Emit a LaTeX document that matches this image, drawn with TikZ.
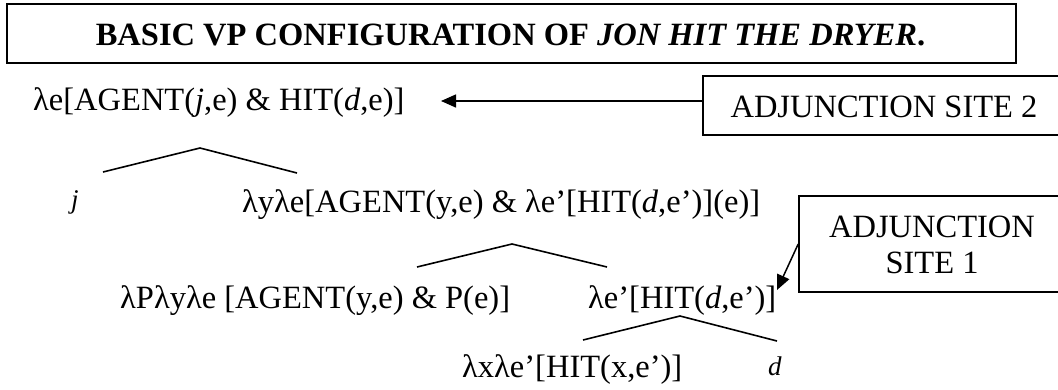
\documentclass[tikz,border=0pt]{standalone}
\usepackage{fontspec}
\setmainfont{Liberation Serif}
\usetikzlibrary{arrows.meta}
\tikzset{
  txt/.style={inner sep=0pt, anchor=base west, font=\fontsize{32.5}{36}\selectfont},
  small/.style={inner sep=0pt, anchor=base west, font=\fontsize{27}{30}\selectfont\itshape},
  frame/.style={draw, line width=1.6pt, inner sep=0pt, align=center, font=\fontsize{32}{36}\selectfont},
  branch/.style={line width=1.6pt},
  pointer/.style={line width=1.5pt, -{Triangle[length=15pt,width=13pt]}}
}
\begin{document}
\begin{tikzpicture}[x=1pt,y=-1pt]
\useasboundingbox (0,0) rectangle (1058,389);
% title
\node[frame, minimum width=1009pt, minimum height=59pt] (title) at (511.5,33.5) {};
\node[inner sep=0pt, anchor=base, font=\fontsize{32.5}{36}\selectfont\bfseries] (titletext) at (510.5,45)
  {BASIC VP CONFIGURATION OF \textit{JON HIT THE DRYER}.};
% adjunction boxes
\node[frame, minimum width=362pt, minimum height=59pt] (adj2) at (884,105.5) {};
\node[inner sep=0pt, anchor=base, font=\fontsize{32.5}{36}\selectfont] (adj2text) at (884,117) {ADJUNCTION SITE 2};
\node[frame, minimum width=266pt, minimum height=96pt] (adj1) at (932,244) {};
\node[inner sep=0pt, anchor=base, font=\fontsize{32.5}{36}\selectfont] (adj1a) at (932,237) {ADJUNCTION};
\node[inner sep=0pt, anchor=base, font=\fontsize{32.5}{36}\selectfont] (adj1b) at (932,273) {SITE 1};
% tree texts
\node[txt] (root) at (33,110) {λe[AGENT(\textit{j},e) \& HIT(\textit{d},e)]};
\node[small] (j) at (71,208) {j};
\node[txt] (vbar) at (242,212) {λyλe[AGENT(y,e) \& λe’[HIT(\textit{d},e’)](e)]};
\node[txt] (agent) at (120,308) {λPλyλe [AGENT(y,e) \& P(e)]};
\node[txt] (hit) at (588,308) {λe’[HIT(\textit{d},e’)]};
\node[txt] (hitx) at (462,377) {λxλe’[HIT(x,e’)]};
\node[small] (d) at (768,375) {d};
% branches
\coordinate (t1a) at (200,148); \coordinate (t1l) at (103,172); \coordinate (t1r) at (297,173);
\coordinate (t2a) at (512,244); \coordinate (t2l) at (417,267); \coordinate (t2r) at (607,267);
\coordinate (t3a) at (680,316); \coordinate (t3l) at (583,340); \coordinate (t3r) at (777,341);
\draw[branch] (t1l) -- (t1a) -- (t1r);
\draw[branch] (t2l) -- (t2a) -- (t2r);
\draw[branch] (t3l) -- (t3a) -- (t3r);
% pointers
\coordinate (p2s) at (703,101);
\coordinate (p2e) at (441,101);
\draw[pointer] (p2s) -- (p2e);
\coordinate (p1e) at (777,290);
\draw[pointer] (adj1.west) -- (p1e);
\end{tikzpicture}
\end{document}
